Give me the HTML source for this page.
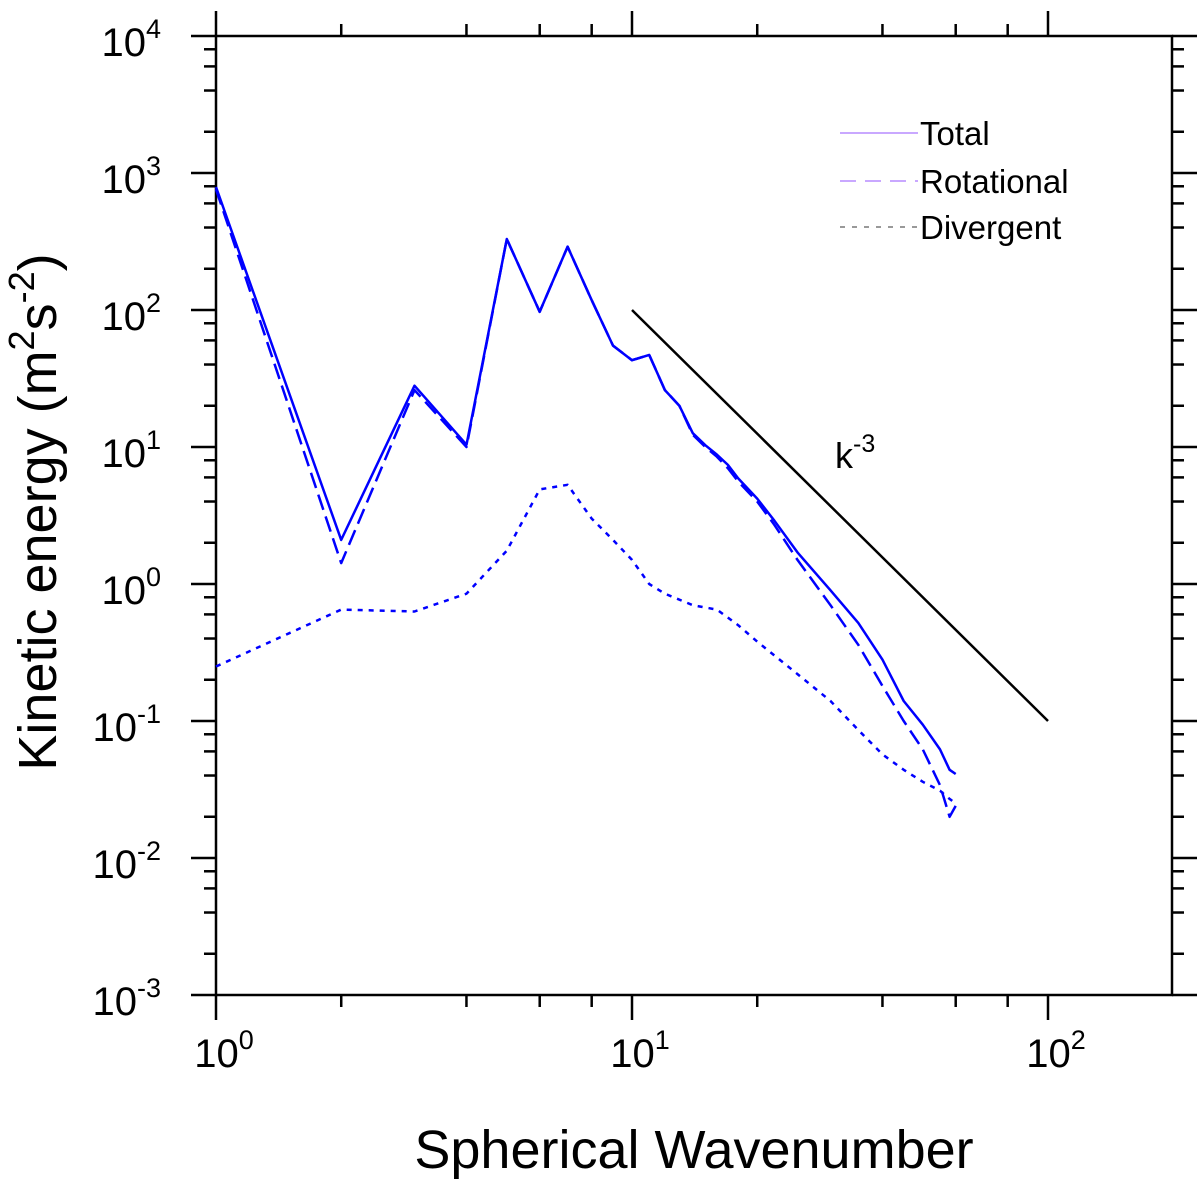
<!DOCTYPE html>
<html><head><meta charset="utf-8"><style>
html,body{margin:0;padding:0;background:#fff;}
svg{display:block;font-family:"Liberation Sans",Arial,sans-serif;}
</style></head><body>
<svg id="chart" width="1200" height="1180" xmlns="http://www.w3.org/2000/svg"></svg>
<script>
const kTotal=[1,2,3,4,5,6,7,8,9,10,11,12,13,14,15,16,17,18,20,22,25,30,35,40,45,50,55,58,60];
const eTotal=[790,2.1,28,10.4,330,97,290,118,55,43,47,26,20,12.6,10.3,8.8,7.4,5.9,4.2,2.9,1.7,0.9,0.52,0.28,0.14,0.094,0.062,0.044,0.041];
const kRot=[1,2,3,4,5,6,7,8,9,10,11,12,13,14,15,16,17,18,20,22,25,30,35,40,45,50,55,58,60];
const eRot=[760,1.42,26,10,330,97,290,118,55,43,47,26,20,12.3,10,8.5,7,5.6,4.0,2.7,1.5,0.7,0.36,0.18,0.1,0.062,0.034,0.02,0.024];
const kDiv=[1,2,3,4,5,6,7,8,9,10,11,12,14,16,18,20,25,30,35,40,45,50,55,58,60];
const eDiv=[0.25,0.65,0.63,0.85,1.75,4.9,5.3,3.0,2.1,1.5,1.0,0.85,0.7,0.65,0.5,0.38,0.22,0.14,0.086,0.057,0.044,0.036,0.031,0.027,0.025];
const refK=[10,100];
const refE=[100,0.1];
const xTickExp=[0,1,2];
const yTickExp=[4,3,2,1,0,-1,-2,-3];

const NS="http://www.w3.org/2000/svg";
const svg=document.getElementById('chart');
const L=216,R=1172,T=36,B=995,MAJ=25,MIN=12;
const xs=k=>L+416*Math.log10(k);
const ys=e=>T+(4-Math.log10(e))*137;
function mk(tag,attrs,parent){const el=document.createElementNS(NS,tag);for(const a in attrs)el.setAttribute(a,attrs[a]);(parent||svg).appendChild(el);return el;}

const axes=mk('g',{});


const border=mk('rect',{x:L,y:T,width:R-L,height:B-T,stroke:'#000','stroke-width':2.5,fill:'none'},axes);


const minors=[1,2,4,6,8];
for(let d=0;d<3;d++){minors.forEach(m=>{const k=m*Math.pow(10,d);const x=xs(k);if(x>R+1)return;const len=m===1?MAJ:MIN;
const t1=mk('line',{x1:x,x2:x,y1:B,y2:B+len,stroke:'#000','stroke-width':2.5},axes);


const t2=mk('line',{x1:x,x2:x,y1:T,y2:T-len,stroke:'#000','stroke-width':2.5},axes);

});}
for(let d=-3;d<=4;d++){minors.forEach(m=>{const e=m*Math.pow(10,d);if(e>10001)return;const y=ys(e);const len=m===1?MAJ:MIN;
const t1=mk('line',{x1:L,x2:L-len,y1:y,y2:y,stroke:'#000','stroke-width':2.5},axes);


const t2=mk('line',{x1:R,x2:R+len,y1:y,y2:y,stroke:'#000','stroke-width':2.5},axes);

});}

xTickExp.forEach(p=>{const t=mk('text',{x:xs(Math.pow(10,p))+8,y:1067,'font-size':40,'text-anchor':'middle'});


t.innerHTML=`10<tspan dy="-18" font-size="27">${p}</tspan>`;});
yTickExp.forEach(p=>{const t=mk('text',{x:161,y:ys(Math.pow(10,p))+20,'font-size':40,'text-anchor':'end'});


t.innerHTML=`10<tspan dy="-18" font-size="27">${p}</tspan>`;});

const xt=mk('text',{x:694,y:1168,'font-size':54,'text-anchor':'middle'});


xt.textContent='Spherical Wavenumber';
const yt=mk('text',{x:0,y:0,'font-size':54,'text-anchor':'middle',transform:'translate(56,512) rotate(-90)'});


yt.innerHTML='Kinetic energy (m<tspan dy="-22" font-size="36">2</tspan><tspan dy="22">s</tspan><tspan dy="-22" font-size="36">-2</tspan><tspan dy="22">)</tspan>';

function line(ks,es,dash,name){const d=ks.map((k,i)=>(i?'L':'M')+xs(k).toFixed(1)+','+ys(es[i]).toFixed(1)).join('');
const p=mk('path',{d:d,stroke:'#0000ff','stroke-width':2.5,fill:'none','stroke-dasharray':dash,'stroke-linejoin':'round'});

}
line(kDiv,eDiv,'5,6','divergent-line');
line(kRot,eRot,'16,7','rotational-line');
line(kTotal,eTotal,'none','total-line');
const ref=mk('line',{x1:xs(refK[0]),y1:ys(refE[0]),x2:xs(refK[1]),y2:ys(refE[1]),stroke:'#000','stroke-width':2.5});


const rl=mk('text',{x:835,y:468,'font-size':36});


rl.innerHTML='k<tspan dy="-16" font-size="25">-3</tspan>';

const leg=[['Total','none','#c9a8ff',133],['Rotational','16,9','#c9a8ff',181],['Divergent','5,7','#999',227]];
leg.forEach(l=>{const g=mk('g',{});


mk('line',{x1:840,x2:918,y1:l[3],y2:l[3],stroke:l[2],'stroke-width':2,'stroke-dasharray':l[1]},g);
const t=mk('text',{x:920,y:l[3]+12,'font-size':33},g);t.textContent=l[0];});
</script>
</body></html>
